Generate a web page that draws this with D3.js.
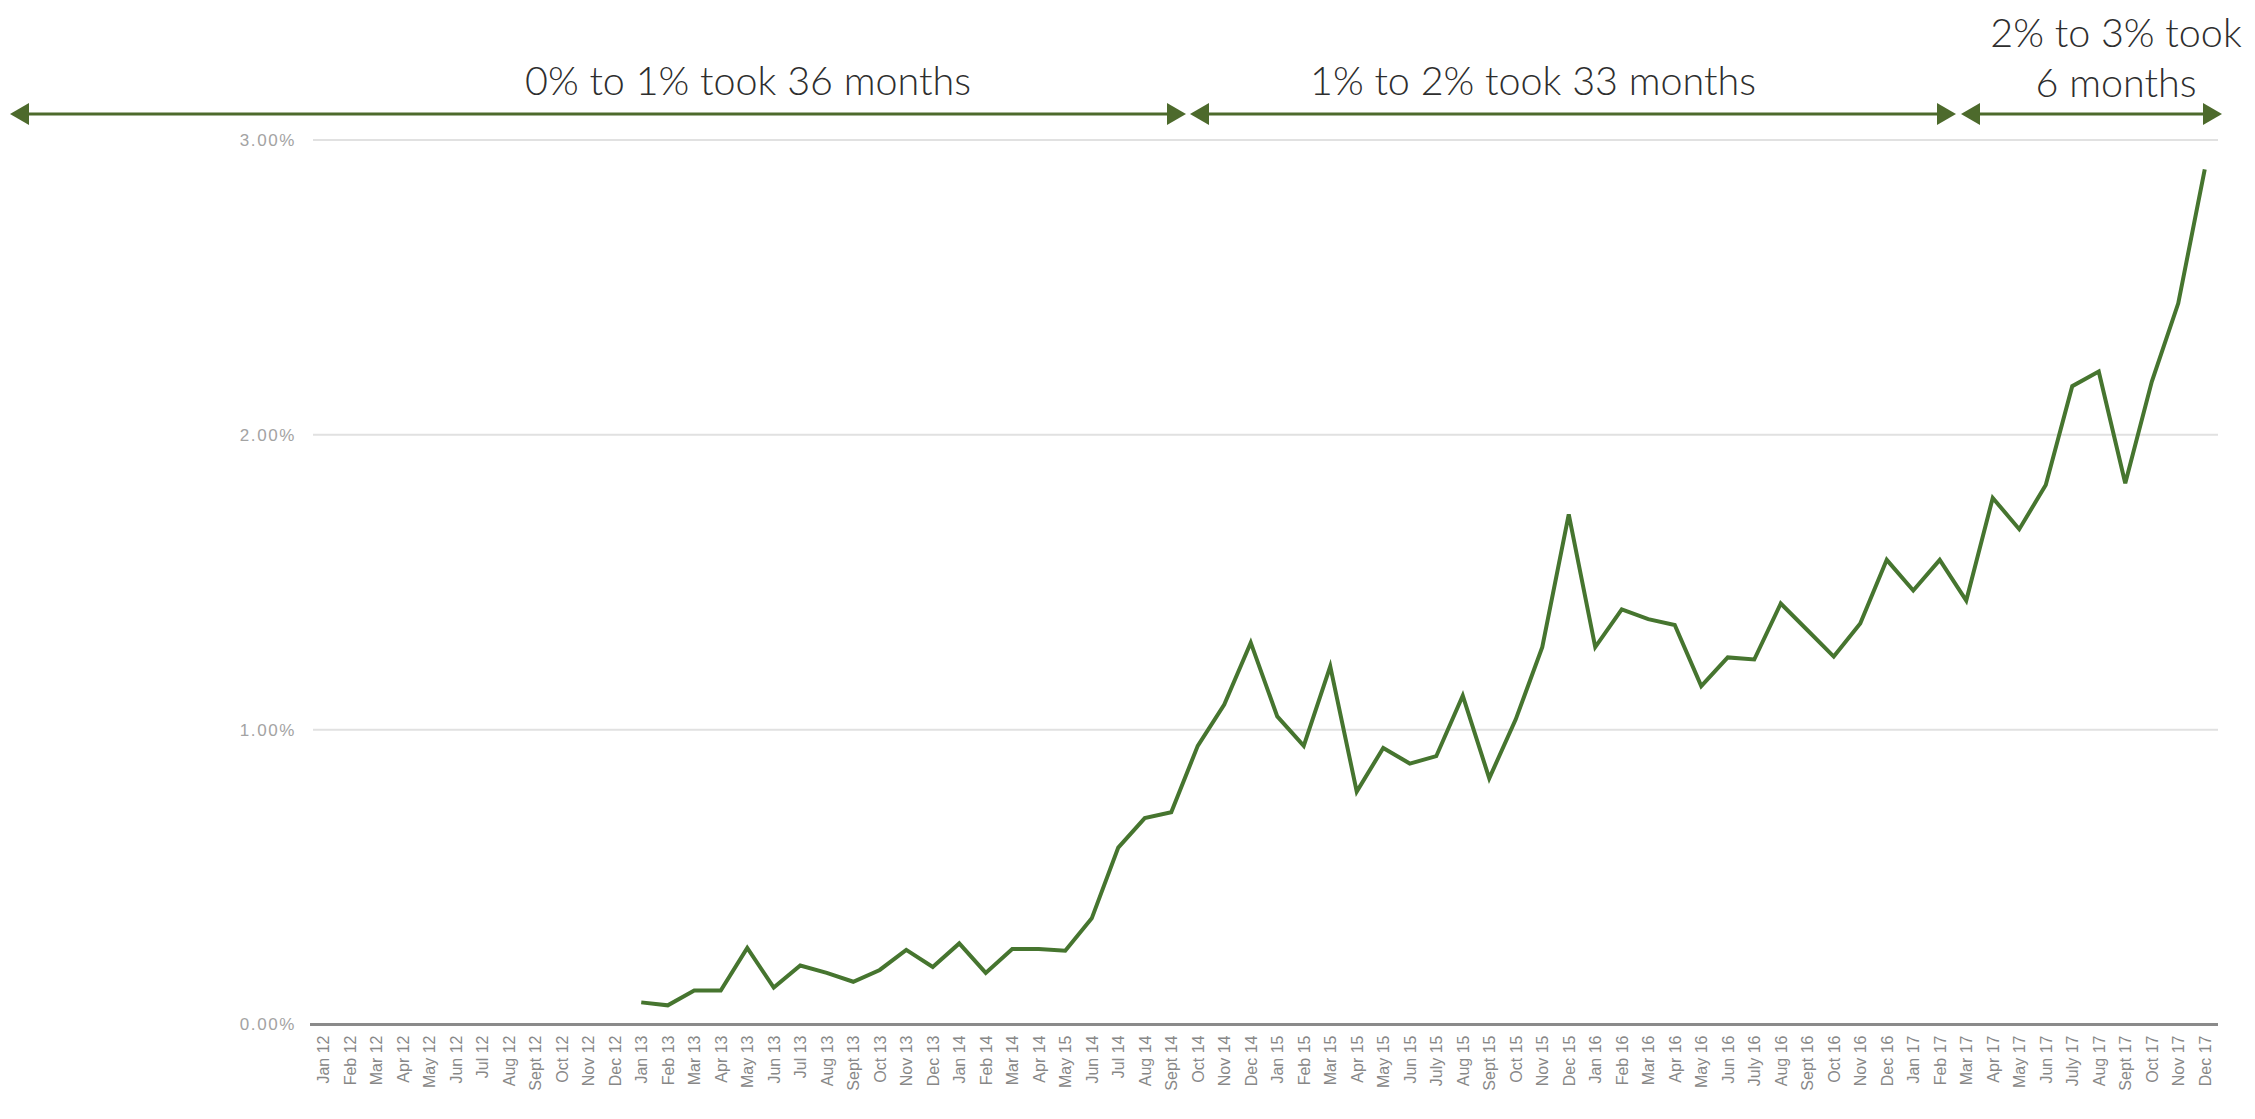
<!DOCTYPE html>
<html>
<head>
<meta charset="utf-8">
<script src="https://cdn.jsdelivr.net/npm/d3@7"></script>
<style>
  html, body { margin: 0; padding: 0; background: #ffffff; }
  svg { display: block; }
</style>
</head>
<body>
<svg id="chart" width="2255" height="1119"></svg>
<script>
// Month labels along the x axis (as printed, including the repeated "May 15")
const monthLabels = [
  "Jan 12","Feb 12","Mar 12","Apr 12","May 12","Jun 12","Jul 12","Aug 12","Sept 12","Oct 12","Nov 12","Dec 12",
  "Jan 13","Feb 13","Mar 13","Apr 13","May 13","Jun 13","Jul 13","Aug 13","Sept 13","Oct 13","Nov 13","Dec 13",
  "Jan 14","Feb 14","Mar 14","Apr 14","May 15","Jun 14","Jul 14","Aug 14","Sept 14","Oct 14","Nov 14","Dec 14",
  "Jan 15","Feb 15","Mar 15","Apr 15","May 15","Jun 15","July 15","Aug 15","Sept 15","Oct 15","Nov 15","Dec 15",
  "Jan 16","Feb 16","Mar 16","Apr 16","May 16","Jun 16","July 16","Aug 16","Sept 16","Oct 16","Nov 16","Dec 16",
  "Jan 17","Feb 17","Mar 17","Apr 17","May 17","Jun 17","July 17","Aug 17","Sept 17","Oct 17","Nov 17","Dec 17"
];

// Monthly share, in percent (no data during 2012)
const share2012 = [null,null,null,null,null,null,null,null,null,null,null,null];
const share2013 = [0.075,0.065,0.115,0.115,0.26,0.125,0.20,0.175,0.145,0.185,0.253,0.195];
const share2014 = [0.275,0.175,0.256,0.256,0.25,0.36,0.60,0.70,0.72,0.945,1.085,1.295];
const share2015 = [1.045,0.945,1.215,0.79,0.938,0.885,0.91,1.115,0.835,1.035,1.28,1.73];
const share2016 = [1.28,1.408,1.375,1.355,1.148,1.245,1.238,1.428,1.338,1.248,1.36,1.576];
const share2017 = [1.472,1.576,1.438,1.786,1.68,1.83,2.165,2.215,1.836,2.18,2.446,2.90];

const shareValues = [].concat(share2012, share2013, share2014, share2015, share2016, share2017);

// Y axis ticks (percent)
const yTicks = [0, 1, 2, 3];

// Milestone annotations along the top
const milestoneTexts = [
  ["0% to 1% took 36 months"],
  ["1% to 2% took 33 months"],
  ["2% to 3% took", "6 months"]
];

// ---- layout ----
const svg = d3.select("#chart");
const plotLeft = 310, plotRight = 2218, plotTop = 140, plotBottom = 1024.5;
const lineColor = "#46752f";
const arrowColor = "#4d6a2c";

const x = d3.scalePoint()
  .domain(d3.range(monthLabels.length))
  .range([plotLeft, plotRight])
  .padding(0.5);

const y = d3.scaleLinear()
  .domain([0, 3])
  .range([plotBottom, plotTop]);

// Gridlines
svg.append("g")
  .selectAll("line")
  .data(yTicks.filter(t => t > 0))
  .join("line")
  .attr("x1", plotLeft + 3)
  .attr("x2", plotRight)
  .attr("y1", d => y(d))
  .attr("y2", d => y(d))
  .attr("stroke", "#e1e1e1")
  .attr("stroke-width", 2);

// Y axis labels
const yAxis = d3.axisLeft(y)
  .tickValues(yTicks)
  .tickFormat(d => d.toFixed(2) + "%")
  .tickSize(0)
  .tickPadding(14);

svg.append("g")
  .attr("transform", `translate(${plotLeft},0)`)
  .call(yAxis)
  .call(g => g.select(".domain").remove())
  .call(g => g.selectAll("text")
    .attr("fill", "#a3a3a3")
    .attr("font-family", "Liberation Sans, Arial, sans-serif")
    .attr("font-size", 17)
    .attr("letter-spacing", 1.6));

// X axis
const xAxis = d3.axisBottom(x)
  .tickFormat(i => monthLabels[i])
  .tickSize(0)
  .tickPadding(0);

const gx = svg.append("g")
  .attr("transform", `translate(0,${plotBottom})`)
  .call(xAxis);

gx.select(".domain")
  .attr("stroke", "#8a8a8a")
  .attr("stroke-width", 3)
  .attr("d", `M${plotLeft},0H${plotRight}`);

gx.selectAll("text")
  .attr("fill", "#878787")
  .attr("font-family", "Liberation Sans, Arial, sans-serif")
  .attr("font-size", 16)
  .attr("text-anchor", "end")
  .attr("transform", "rotate(-90)")
  .attr("x", -11)
  .attr("y", 0)
  .attr("dy", "0.35em");

// Data line
const line = d3.line()
  .defined(d => d != null)
  .x((d, i) => x(i))
  .y(d => y(d));

svg.append("path")
  .datum(shareValues)
  .attr("fill", "none")
  .attr("stroke", lineColor)
  .attr("stroke-width", 4)
  .attr("stroke-linejoin", "miter")
  .attr("d", line);

// Milestone arrows
const arrowY = 114;
const arrowStops = [[10, 1186], [1190, 1956], [1961, 2222]];
const headW = 19, headH = 11;
const arrows = svg.append("g");

arrowStops.forEach(([a, b]) => {
  arrows.append("line")
    .attr("x1", a + headW - 2).attr("x2", b - headW + 2)
    .attr("y1", arrowY).attr("y2", arrowY)
    .attr("stroke", arrowColor)
    .attr("stroke-width", 3);
  arrows.append("path")
    .attr("d", `M${a},${arrowY}L${a + headW},${arrowY - headH}L${a + headW},${arrowY + headH}Z`)
    .attr("fill", arrowColor);
  arrows.append("path")
    .attr("d", `M${b},${arrowY}L${b - headW},${arrowY - headH}L${b - headW},${arrowY + headH}Z`)
    .attr("fill", arrowColor);
});

// Milestone captions
const captionPos = [[748, 95], [1533, 95], [2116, 47]];
milestoneTexts.forEach((lines, k) => {
  const t = svg.append("text")
    .attr("x", captionPos[k][0])
    .attr("y", captionPos[k][1])
    .attr("text-anchor", "middle")
    .attr("fill", "#2e2e2e")
    .attr("font-family", "Lato, 'Open Sans', sans-serif")
    .attr("font-weight", 300)
    .attr("font-size", 39.5);
  lines.forEach((s, j) => {
    t.append("tspan")
      .attr("x", captionPos[k][0])
      .attr("dy", j === 0 ? 0 : 50)
      .text(s);
  });
});
</script>
</body>
</html>
